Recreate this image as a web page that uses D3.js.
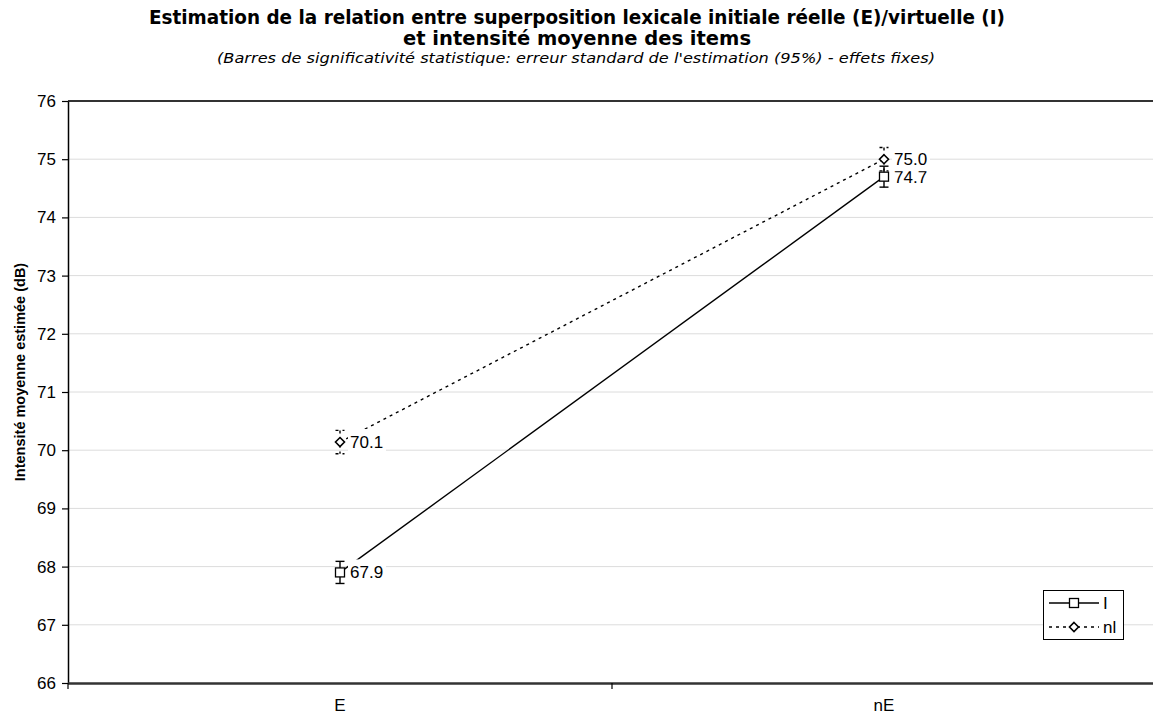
<!DOCTYPE html>
<html><head><meta charset="utf-8">
<script src="https://cdn.jsdelivr.net/npm/d3@7"></script>
<style>body{margin:0;background:#fff}svg{display:block}</style>
</head><body>
<script>
const categories = ["E", "nE"];
const seriesNames = ["I", "nI"];
const valuesI = [67.9, 74.7];
const valuesNI = [70.14, 75.0];
const errI = [0.19, 0.18];
const errNI = [0.2, 0.2];
const yTicks = [66, 67, 68, 69, 70, 71, 72, 73, 74, 75, 76];
const legendLabels = ["I", "nl"];

const W = 1153, H = 715;
const svg = d3.select("body").append("svg").attr("width", W).attr("height", H);
const L = 68, R = 1156, T = 101, B = 683;
const x = d3.scaleBand().domain(categories).range([L, R]).padding(0);
const y = d3.scaleLinear().domain([66, 76]).range([B, T]);
const cx = c => x(c) + x.bandwidth() / 2;
const AR = "Liberation Sans, Arial, sans-serif";

// title
svg.append("text").attr("x", 577).attr("y", 24).attr("text-anchor", "middle")
  .attr("font-family", "DejaVu Sans").attr("font-weight", "bold").attr("font-size", 19)
  .attr("textLength", 856).attr("lengthAdjust", "spacingAndGlyphs")
  .text("Estimation de la relation entre superposition lexicale initiale réelle (E)/virtuelle (I)");
svg.append("text").attr("x", 577).attr("y", 45).attr("text-anchor", "middle")
  .attr("font-family", "DejaVu Sans").attr("font-weight", "bold").attr("font-size", 19)
  .attr("textLength", 348).attr("lengthAdjust", "spacingAndGlyphs")
  .text("et intensité moyenne des items");
svg.append("text").attr("x", 576).attr("y", 63).attr("text-anchor", "middle")
  .attr("font-family", "DejaVu Sans").attr("font-style", "italic").attr("font-size", 14)
  .attr("textLength", 718).attr("lengthAdjust", "spacingAndGlyphs")
  .text("(Barres de significativité statistique: erreur standard de l'estimation (95%) - effets fixes)");

// gridlines
svg.append("g").selectAll("line").data(yTicks.slice(1, -1)).join("line")
  .attr("x1", L).attr("x2", W).attr("y1", d => y(d)).attr("y2", d => y(d))
  .attr("stroke", "#dcdcdc").attr("stroke-width", 1);
// top border
svg.append("line").attr("x1", L).attr("x2", W).attr("y1", y(76)).attr("y2", y(76))
  .attr("stroke", "#333").attr("stroke-width", 2);

// y axis
const yAxis = d3.axisLeft(y).tickValues(yTicks).tickSize(6).tickSizeOuter(0).tickFormat(d3.format("d"));
const gy = svg.append("g").attr("transform", `translate(${L},0)`).call(yAxis);
gy.select(".domain").attr("stroke", "#000").attr("stroke-width", 1.5);
gy.selectAll(".tick line").attr("stroke", "#000").attr("stroke-width", 1.2);
gy.selectAll(".tick text").attr("font-family", AR).attr("font-size", 17)
  .attr("fill", "#000").attr("x", -12);

// x axis
const gx = svg.append("g").attr("transform", `translate(0,${B})`)
  .call(d3.axisBottom(x).tickSize(0).tickPadding(0));
gx.select(".domain").attr("d", `M${L},0.5H${W}`).attr("stroke", "#333").attr("stroke-width", 2.5);
gx.selectAll(".tick text").attr("font-family", AR).attr("font-size", 17)
  .attr("fill", "#000").attr("y", 28).attr("dy", 0);
// category separator ticks
svg.append("g").selectAll("line").data([L, (L + R) / 2]).join("line")
  .attr("x1", d => d).attr("x2", d => d).attr("y1", B).attr("y2", B + 6)
  .attr("stroke", "#000").attr("stroke-width", 1.2);

// y title
svg.append("text").attr("transform", `translate(25,372) rotate(-90)`)
  .attr("text-anchor", "middle").attr("font-family", AR)
  .attr("font-weight", "bold").attr("font-size", 14.5).text("Intensité moyenne estimée (dB)");

const series = [
  { vals: valuesI, err: errI, dash: null, marker: "square" },
  { vals: valuesNI, err: errNI, dash: "3,4", marker: "diamond" }
];

function drawMarker(g, type, px, py) {
  if (type === "square") {
    g.append("rect").attr("x", px - 4.5).attr("y", py - 4.5).attr("width", 9).attr("height", 9)
      .attr("fill", "#fff").attr("stroke", "#000").attr("stroke-width", 1.3);
  } else {
    g.append("path").attr("d", `M${px},${py - 4.5}L${px + 4.5},${py}L${px},${py + 4.5}L${px - 4.5},${py}Z`)
      .attr("fill", "#fff").attr("stroke", "#000").attr("stroke-width", 1.6);
  }
}

const line = d3.line().x((d, i) => cx(categories[i])).y(d => y(d));
series.forEach(s => {
  svg.append("path").datum(s.vals).attr("d", line).attr("fill", "none")
    .attr("stroke", "#000").attr("stroke-width", 1.4).attr("stroke-dasharray", s.dash);
});

// labels with white background
series.forEach(s => {
  s.vals.forEach((v, i) => {
    const px = cx(categories[i]) + 10, py = y(v);
    const t = d3.format(".1f")(v);
    svg.append("rect").attr("x", px - 2).attr("y", py - 13).attr("width", 38).attr("height", 25).attr("fill", "#fff");
    svg.append("text").attr("x", px).attr("y", py + 6).attr("font-family", AR)
      .attr("font-size", 17).attr("fill", "#000").text(t);
  });
});

// error bars and markers
series.forEach(s => {
  s.vals.forEach((v, i) => {
    const px = cx(categories[i]);
    const g = svg.append("g");
    g.append("line").attr("x1", px).attr("x2", px).attr("y1", y(v + s.err[i])).attr("y2", y(v - s.err[i]))
      .attr("stroke", "#000").attr("stroke-width", 1.4).attr("stroke-dasharray", s.dash);
    [v + s.err[i], v - s.err[i]].forEach(e => {
      g.append("line").attr("x1", px - 4.5).attr("x2", px + 4.5).attr("y1", y(e)).attr("y2", y(e))
        .attr("stroke", "#000").attr("stroke-width", 1.4).attr("stroke-dasharray", s.dash);
    });
    drawMarker(g, s.marker, px, y(v));
  });
});

// legend
const lg = svg.append("g").attr("transform", "translate(1043,590)");
lg.append("rect").attr("x", 0.5).attr("y", 0.5).attr("width", 80).attr("height", 49)
  .attr("fill", "#fff").attr("stroke", "#000").attr("stroke-width", 1);
series.forEach((s, i) => {
  const ly = 13 + i * 24;
  lg.append("line").attr("x1", 6).attr("x2", 56).attr("y1", ly).attr("y2", ly)
    .attr("stroke", "#000").attr("stroke-width", 1.4).attr("stroke-dasharray", s.dash);
  drawMarker(lg, s.marker, 31, ly);
  lg.append("text").attr("x", 60).attr("y", ly + 6).attr("font-family", AR)
    .attr("font-size", 17).text(legendLabels[i]);
});
</script>
</body></html>
